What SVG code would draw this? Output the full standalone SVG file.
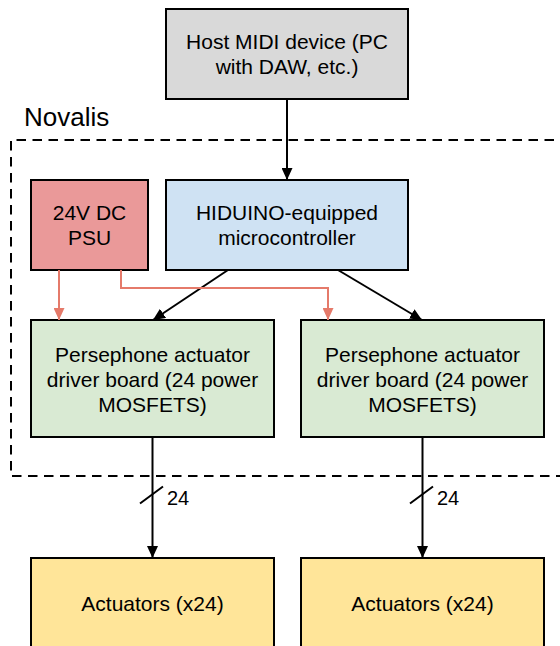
<svg xmlns="http://www.w3.org/2000/svg" width="560" height="646" viewBox="0 0 560 646">
<style>
  .box { stroke: #000; stroke-width: 2; }
  .t { font-family: "Liberation Sans", Arial, sans-serif; font-size: 21px; fill: #000; text-anchor: middle; }
  .lbl { font-family: "Liberation Sans", Arial, sans-serif; font-size: 20px; fill: #000; }
  .title { font-family: "Liberation Sans", Arial, sans-serif; font-size: 26px; fill: #000; }
  .blk { stroke: #000; stroke-width: 2; fill: none; }
  .red { stroke: #e57a6a; stroke-width: 2; fill: none; }
</style>
<defs>
  <marker id="ab" viewBox="0 0 12 11" refX="12" refY="5.5" markerWidth="12" markerHeight="11" markerUnits="userSpaceOnUse" orient="auto">
    <path d="M0,0 L12,5.5 L0,11 z" fill="#000"/>
  </marker>
  <marker id="ar" viewBox="0 0 12 11" refX="12" refY="5.5" markerWidth="12" markerHeight="11" markerUnits="userSpaceOnUse" orient="auto">
    <path d="M0,0 L12,5.5 L0,11 z" fill="#e57a6a"/>
  </marker>
</defs>
<rect width="560" height="646" fill="#fff"/>

<g id="novalis">
  <path d="M 570 140 H 11 V 476 H 570" fill="none" stroke="#000" stroke-width="2" stroke-dasharray="9.5 6.5"/>
  <text class="title" x="24" y="126">Novalis</text>
</g>

<g id="host">
  <rect class="box" x="166" y="9" width="242" height="90" fill="#d9d9d9"/>
  <text class="t" x="287" y="49">Host MIDI device (PC</text>
  <text class="t" x="287" y="74">with DAW, etc.)</text>
</g>

<g id="psu">
  <rect class="box" x="31" y="180" width="117" height="90" fill="#ea9999"/>
  <text class="t" x="89.5" y="220">24V DC</text>
  <text class="t" x="89.5" y="245">PSU</text>
</g>

<g id="mcu">
  <rect class="box" x="166" y="180" width="242" height="90" fill="#cfe2f3"/>
  <text class="t" x="287" y="220">HIDUINO-equipped</text>
  <text class="t" x="287" y="245">microcontroller</text>
</g>

<g id="driver1">
  <rect class="box" x="31" y="320" width="243" height="117" fill="#d9ead3"/>
  <text class="t" x="152.5" y="362">Persephone actuator</text>
  <text class="t" x="152.5" y="387">driver board (24 power</text>
  <text class="t" x="152.5" y="412">MOSFETS)</text>
</g>

<g id="driver2">
  <rect class="box" x="301" y="320" width="243" height="117" fill="#d9ead3"/>
  <text class="t" x="422.5" y="362">Persephone actuator</text>
  <text class="t" x="422.5" y="387">driver board (24 power</text>
  <text class="t" x="422.5" y="412">MOSFETS)</text>
</g>

<g id="act1">
  <rect class="box" x="31" y="558" width="243" height="92" fill="#ffe599"/>
  <text class="t" x="152.5" y="611">Actuators (x24)</text>
</g>

<g id="act2">
  <rect class="box" x="301" y="558" width="243" height="92" fill="#ffe599"/>
  <text class="t" x="422.5" y="611">Actuators (x24)</text>
</g>

<g id="connectors">
  <line class="blk" x1="287" y1="99" x2="287" y2="180" marker-end="url(#ab)"/>
  <line class="blk" x1="228" y1="270" x2="153" y2="320" marker-end="url(#ab)"/>
  <line class="blk" x1="338" y1="270" x2="422" y2="320" marker-end="url(#ab)"/>
  <line class="red" x1="59" y1="270" x2="59" y2="320" marker-end="url(#ar)"/>
  <polyline class="red" points="121,270 121,288 328,288 328,320" marker-end="url(#ar)"/>
  <line class="blk" x1="152.5" y1="437" x2="152.5" y2="558" marker-end="url(#ab)"/>
  <line class="blk" x1="422.5" y1="437" x2="422.5" y2="558" marker-end="url(#ab)"/>
  <line class="blk" x1="140" y1="503.5" x2="163" y2="486.5"/>
  <line class="blk" x1="410" y1="503.5" x2="433" y2="486.5"/>
  <text class="lbl" x="167" y="505">24</text>
  <text class="lbl" x="437" y="505">24</text>
</g>
</svg>
